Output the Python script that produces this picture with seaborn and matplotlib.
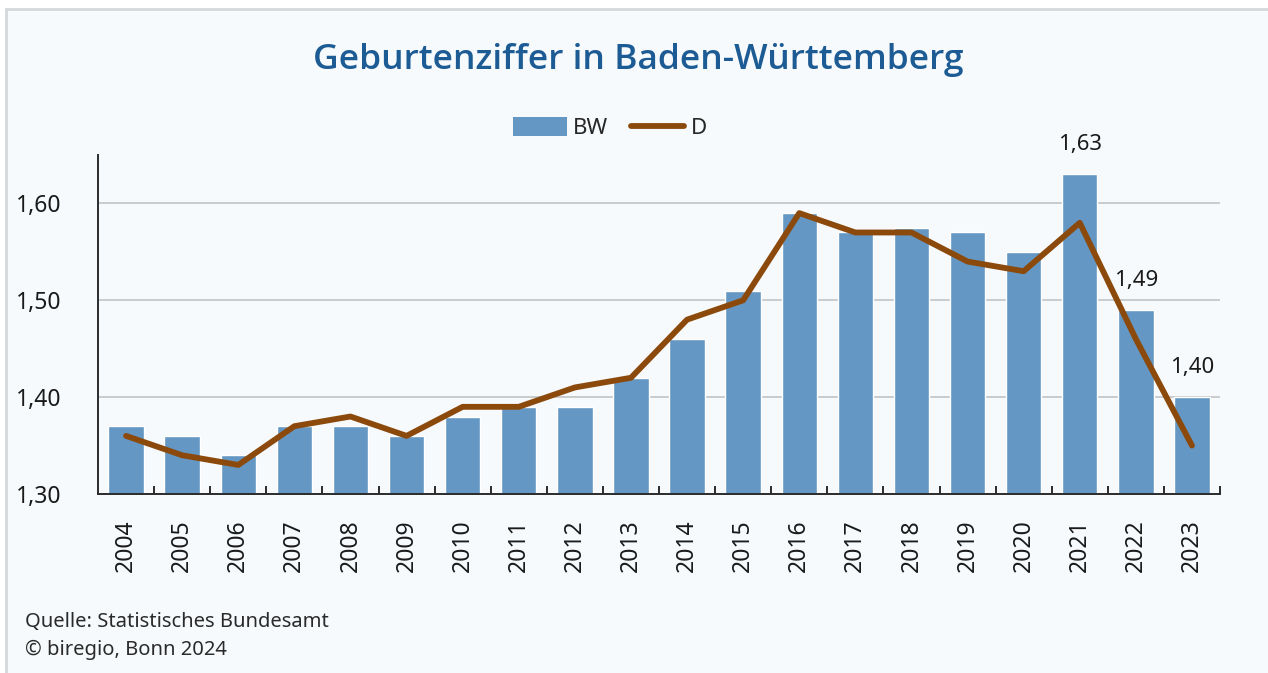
import matplotlib
matplotlib.use("Agg")
import matplotlib.pyplot as plt
import seaborn as sns
import pandas as pd
from matplotlib.patches import Patch
from matplotlib.lines import Line2D
from matplotlib.ticker import FuncFormatter

years = [str(y) for y in range(2004, 2024)]
bw = [1.37, 1.36, 1.34, 1.37, 1.37, 1.36, 1.38, 1.39, 1.39, 1.42,
      1.46, 1.51, 1.59, 1.57, 1.575, 1.57, 1.55, 1.63, 1.49, 1.40]
de = [1.36, 1.34, 1.33, 1.37, 1.38, 1.36, 1.39, 1.39, 1.41, 1.42,
      1.48, 1.50, 1.59, 1.57, 1.57, 1.54, 1.53, 1.58, 1.46, 1.35]
labelled = {"2021": "1,63", "2022": "1,49", "2023": "1,40"}
yticks = [1.30, 1.40, 1.50, 1.60]

df = pd.DataFrame({"Jahr": years, "BW": bw, "D": de})

sns.set_theme(style="white")
plt.rcParams["font.family"] = ["Noto Sans", "DejaVu Sans"]

BG = "#f7fafc"
BAR = "#6497c3"
LINE = "#8b4a0c"
TXT = "#1a1a1a"

fig = plt.figure(figsize=(12.68, 6.73), dpi=100, facecolor="white")
fig.patches.append(plt.Rectangle((6 / 1268, 0), 1 - 6 / 1268, 1 - 9 / 673,
                                  transform=fig.transFigure, facecolor=BG,
                                  edgecolor="none", zorder=-10))
fig.lines.append(Line2D([6 / 1268, 1], [1 - 9 / 673] * 2, transform=fig.transFigure,
                        color="#d5d8da", lw=2))
fig.lines.append(Line2D([6 / 1268] * 2, [0, 1 - 9 / 673], transform=fig.transFigure,
                        color="#d5d8da", lw=2))

ax = fig.add_axes([98 / 1268, 1 - 494 / 673, (1220 - 98) / 1268, (494 - 155) / 673])
ax.set_facecolor(BG)

sns.barplot(data=df, x="Jahr", y="BW", color=BAR, width=0.63, saturation=1,
            ax=ax, zorder=2)
sns.pointplot(data=df, x="Jahr", y="D", color=LINE, markers="", linewidth=4.2,
              ax=ax, zorder=3)

ax.set_ylim(1.30, 1.65)
ax.set_xlim(-0.5, len(years) - 0.5)
ax.set_yticks(yticks)
ax.yaxis.set_major_formatter(FuncFormatter(lambda v, p: f"{v:.2f}".replace(".", ",")))
ax.set_xlabel("")
ax.set_ylabel("")

for y in yticks[1:]:
    ax.axhline(y, color="#c9cbcd", lw=1.4, zorder=1)

for s in ["top", "right"]:
    ax.spines[s].set_visible(False)
for s in ["left", "bottom"]:
    ax.spines[s].set_color("#2b2b2b")
    ax.spines[s].set_linewidth(1.4)

ax.tick_params(axis="y", direction="in", length=7, width=1.4, color="#2b2b2b",
               labelsize=16.5, pad=26, labelcolor=TXT)
ax.tick_params(axis="x", bottom=False, labelsize=16.5, pad=12, labelcolor=TXT,
               labelrotation=90)
ax.set_xticks([i + 0.5 for i in range(len(years))], minor=True)
ax.tick_params(axis="x", which="minor", bottom=True, direction="in", length=6,
               width=1.4, color="#2b2b2b")

for i, yr in enumerate(years):
    if yr in labelled:
        ax.annotate(labelled[yr], (i, bw[i]), xytext=(0, 14), textcoords="offset points",
                    ha="center", va="bottom", fontsize=16, color=TXT)

handles = [Patch(facecolor=BAR, edgecolor="none"),
           Line2D([0], [0], color=LINE, lw=4.2)]
fig.legend(handles, ["BW", "D"], loc="center", bbox_to_anchor=(610 / 1268, 1 - 128 / 673),
           ncol=2, frameon=False, fontsize=16, handlelength=2.4, handleheight=0.9,
           columnspacing=1.0, handletextpad=0.3)

fig.text(638 / 1268, 1 - 60 / 673, "Geburtenziffer in Baden-Württemberg",
         ha="center", va="center", fontsize=25.5, fontweight="semibold",
         family=["Open Sans", "Noto Sans", "DejaVu Sans"], color="#1c5b93")
fig.text(25 / 1268, 1 - 622 / 673, "Quelle: Statistisches Bundesamt",
         ha="left", va="center", fontsize=14.5, color="#2a2a2a")
fig.text(25 / 1268, 1 - 650 / 673, "© biregio, Bonn 2024",
         ha="left", va="center", fontsize=14.5, color="#2a2a2a")

fig.savefig("out.png", dpi=100, facecolor="white")
